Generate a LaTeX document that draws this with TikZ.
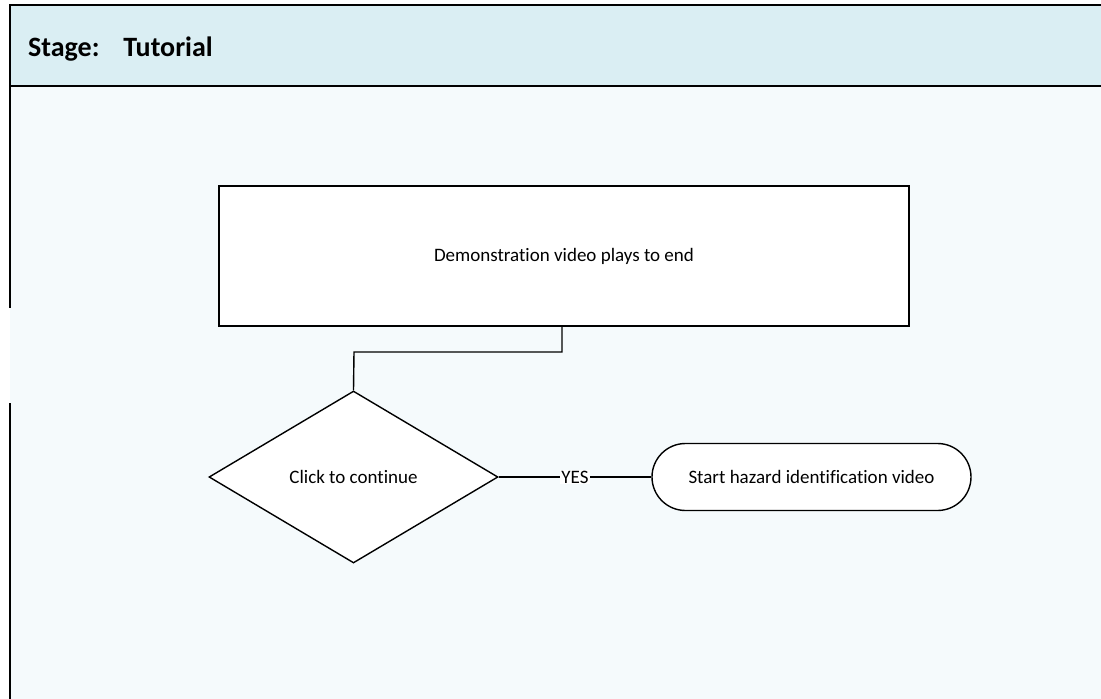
\documentclass[tikz,border=0pt]{standalone}
\usepackage{fontspec}
\setmainfont[Ligatures=CommonOff]{Carlito}
\usetikzlibrary{shapes.geometric}
\definecolor{headfill}{HTML}{DAEEF3}
\definecolor{lanefill}{HTML}{F5FAFC}
\begin{document}
\begin{tikzpicture}[x=1pt,y=-1pt,
  lane/.style={line width=2pt,draw=black},
  flowline/.style={line width=1.4pt,draw=black},
  procbox/.style={rectangle,draw=black,line width=1.4pt,fill=white,inner sep=0pt},
  decision/.style={diamond,draw=black,line width=1.4pt,fill=white,inner sep=0pt},
  terminal/.style={rectangle,rounded corners=33.5pt,draw=black,line width=1.4pt,fill=white,inner sep=0pt},
  lbl/.style={font=\fontsize{19}{22}\selectfont}
]
\useasboundingbox (0,0) rectangle (1101,699);
% swimlane background
\fill[white] (0,0) rectangle (1101,699);
\fill[lanefill] (9.5,86) rectangle (1101,699);
\fill[headfill] (9.5,5) rectangle (1101,86);
\draw[lane] (9.5,5) -- (1101,5);
\draw[lane] (9.5,86) -- (1101,86);
\draw[lane] (9.5,4) -- (9.5,308);
\draw[lane] (9.5,403) -- (9.5,699);
\node[anchor=base west,font=\fontsize{28}{32}\selectfont\bfseries,inner sep=0pt] (stage) at (28,56.5) {Stage:\hspace{0.85em}Tutorial};
% flowchart
\node[procbox,minimum width=690pt,minimum height=140pt,lbl] (demo) at (564,256) {\raisebox{-3pt}{Demonstration video plays to end}};
\node[decision,minimum width=289pt,minimum height=172pt,lbl] (click) at (353.5,477) {Click to continue};
\node[terminal,minimum width=319pt,minimum height=67pt,lbl] (start) at (811.5,477) {Start hazard identification video};
\draw[flowline] (demo.south -| 562,0) -- (562,352) -- (354,352) -- (click.north);
\draw[flowline] (click.east) -- node[fill=white,inner sep=1pt,lbl] (yes) {YES} (start.west);
\end{tikzpicture}
\end{document}
